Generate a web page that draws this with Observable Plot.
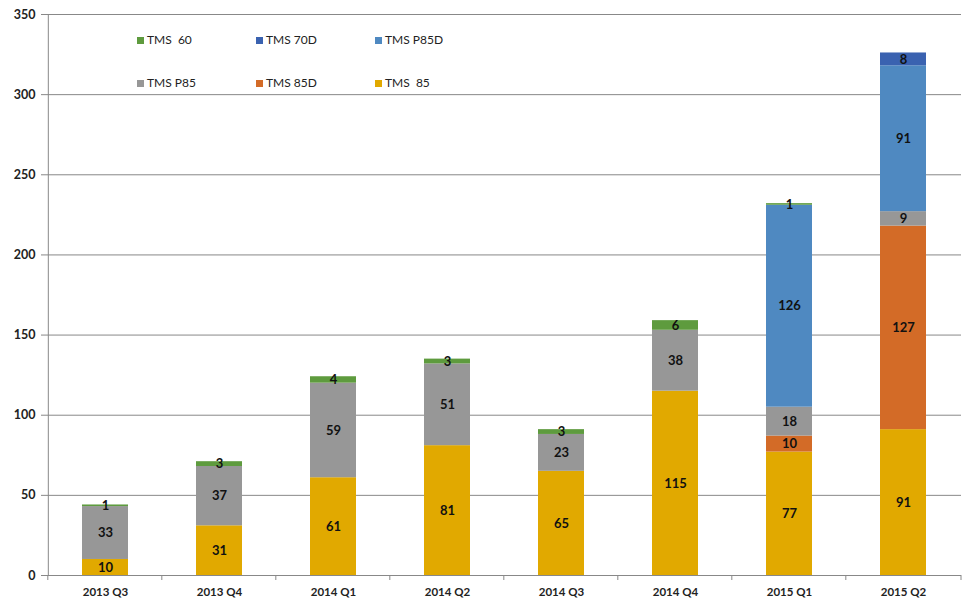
<!DOCTYPE html>
<html><head><meta charset="utf-8">
<script src="https://cdn.jsdelivr.net/npm/d3@7"></script>
<script src="https://cdn.jsdelivr.net/npm/@observablehq/plot@0.6"></script>
<style>
body{margin:0;background:#fff;font-family:Lato,"Open Sans",sans-serif;}
#wrap{position:relative;width:978px;height:614px;}
#legend{position:absolute;left:137px;top:33px;display:grid;grid-template-columns:119px 119px 119px;row-gap:29px;font-size:12px;color:#222;}
#legend span.sw{display:inline-block;width:7px;height:7px;margin-right:3px;vertical-align:0px;}
#legend div{white-space:pre;height:14px;line-height:14px;}
</style></head>
<body><div id="wrap"><div id="chart"></div><div id="legend"></div></div>
<script>
const quarters = ["2013 Q3","2013 Q4","2014 Q1","2014 Q2","2014 Q3","2014 Q4","2015 Q1","2015 Q2"];
const seriesOrder = ["TMS  85","TMS 85D","TMS P85","TMS P85D","TMS 70D","TMS  60"];
const seriesColors = ["#E1A900","#D36B27","#979797","#4F89C1","#3A62B0","#5E9B3E"];
const tms85   = [10,31,61,81,65,115,77,91];
const tms85D  = [0,0,0,0,0,0,10,127];
const tmsP85  = [33,37,59,51,23,38,18,9];
const tmsP85D = [0,0,0,0,0,0,126,91];
const tms70D  = [0,0,0,0,0,0,0,8];
const tms60   = [1,3,4,3,3,6,1,0];
const legendOrder = ["TMS  60","TMS 70D","TMS P85D","TMS P85","TMS 85D","TMS  85"];
const yTicks = [0,50,100,150,200,250,300,350];

const valuesBySeries = [tms85,tms85D,tmsP85,tmsP85D,tms70D,tms60];
const data = [];
seriesOrder.forEach((s,i)=>quarters.forEach((q,j)=>{
  if (valuesBySeries[i][j] > 0) data.push({quarter:q, series:s, value:valuesBySeries[i][j]});
}));

const W = 978, H = 614, mL = 46, mR = 17, mT = 14, mB = 39;
const step = (W - mL - mR) / quarters.length;
const font = "Lato, 'Open Sans', sans-serif";

const chart = Plot.plot({
  width: W, height: H,
  marginLeft: mL, marginRight: mR, marginTop: mT, marginBottom: mB,
  style: {fontFamily: font, background: "#fff"},
  x: {domain: quarters, paddingInner: 0.6, paddingOuter: 0.3, label: null},
  y: {domain: [0,350], label: null},
  color: {domain: seriesOrder, range: seriesColors},
  marks: [
    Plot.ruleY(yTicks.filter(d=>d>0), {stroke: "#888", strokeWidth: 1}),
    Plot.barY(data, Plot.stackY({x: "quarter", y: "value", fill: "series", z: "series", order: seriesOrder})),
    Plot.text(data, Plot.stackY({x: "quarter", y: "value", z: "series", order: seriesOrder, text: "value",
      fontSize: 13, fontWeight: "bold", fill: "#111"})),
    Plot.ruleY([0], {stroke: "#888"}),
    Plot.ruleX([quarters[0]], {x: d=>d, dx: -step/2, y1: 0, y2: 350, stroke: "#888"}),
    Plot.axisY({ticks: yTicks, tickSize: 5, tickPadding: 6, stroke: "#888", fontSize: 12.5, fontWeight: "bold", color: "#222", label: null}),
    Plot.axisX({tickSize: 0, tickPadding: 12, fontSize: 11.5, fontWeight: "bold", color: "#222", label: null})
  ]
});
document.getElementById("chart").append(chart);
// boundary ticks below x axis
const xs = chart.scale("x");
const svg = d3.select(chart);
const y0 = H - mB;
const bounds = quarters.map(q => xs.apply(q) - (step - xs.bandwidth)/2).concat([W - mR]);
svg.append("g").selectAll("line").data(bounds).join("line")
  .attr("x1", d=>d).attr("x2", d=>d).attr("y1", y0).attr("y2", y0+5).attr("stroke","#888");

const lg = d3.select("#legend");
legendOrder.forEach(s=>{
  const div = lg.append("div");
  div.append("span").attr("class","sw").style("background", seriesColors[seriesOrder.indexOf(s)]);
  div.append("span").text(s);
});
</script></body></html>
